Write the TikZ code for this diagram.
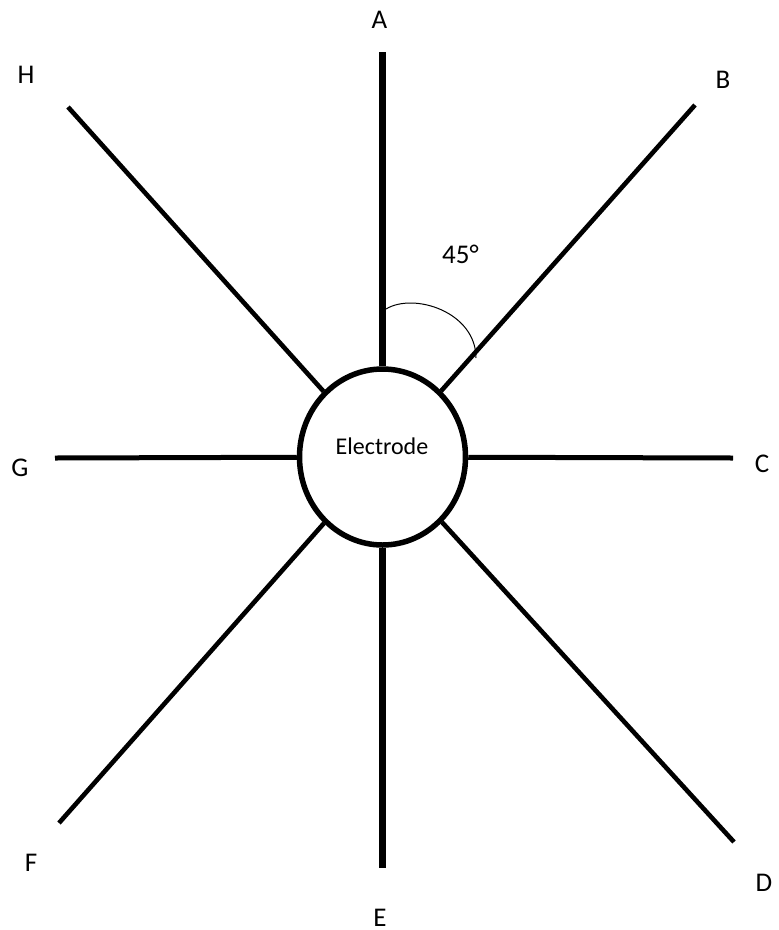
\documentclass[tikz,border=0pt]{standalone}
\usepackage{fontspec}
\setmainfont{Carlito}
\usetikzlibrary{shapes.geometric}
\begin{document}
\begin{tikzpicture}[x=1pt,y=-1pt,
  spoke/.style={line width=4.6pt},
  vspoke/.style={line width=6.4pt},
  hspoke/.style={line width=5pt},
  lbl/.style={anchor=base,inner sep=0pt,font=\fontsize{27}{32}\selectfont},
  electrode/.style={draw,ellipse,line width=5.5pt,minimum width=166pt,minimum height=176pt,inner sep=0pt}]
\useasboundingbox (0,0) rectangle (779,930);
\node[electrode] (el) at (382.5,457) {};
\node[anchor=base,inner sep=0pt,font=\fontsize{24}{28}\selectfont] (eltext) at (382,454) {Electrode};
\coordinate (Aend) at (382.5,52);
\coordinate (Bend) at (695,105);
\coordinate (Cend) at (733,458);
\coordinate (Dend) at (734,842);
\coordinate (Eend) at (382.5,868);
\coordinate (Fend) at (59,823);
\coordinate (Gend) at (55,458);
\coordinate (Hend) at (68,107);
\draw[vspoke] (el) -- (Aend);
\draw[vspoke] (el) -- (Eend);
\draw[hspoke] (el) -- (Cend);
\draw[hspoke] (el) -- (Gend);
\draw[spoke] (el) -- (Bend);
\draw[spoke] (el) -- (Dend);
\draw[spoke] (el) -- (Fend);
\draw[spoke] (el) -- (Hend);
\node[lbl] (A) at (379.5,28) {A};
\node[lbl] (B) at (723,88) {B};
\node[lbl] (C) at (762,472) {C};
\node[lbl] (D) at (764,891) {D};
\node[lbl] (E) at (380,926) {E};
\node[lbl] (F) at (31,871) {F};
\node[lbl] (G) at (20,476) {G};
\node[lbl] (H) at (26,83) {H};
\node[lbl] (ang) at (460.5,263) {45°};
\coordinate (arcS) at (386,309);
\coordinate (arcE) at (476,358);
\draw[line width=1pt] (arcS) .. controls (414,292) and (476,312) .. (arcE);
\end{tikzpicture}
\end{document}
